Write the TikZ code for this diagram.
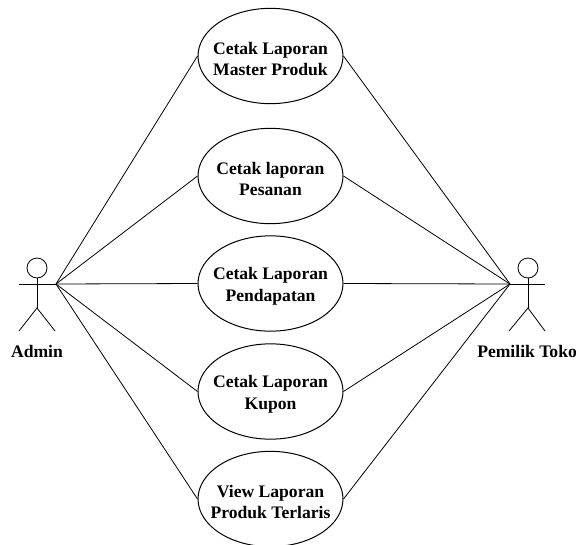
\documentclass[tikz,border=0pt]{standalone}
\usepackage{fontspec}
\setmainfont{Liberation Serif}
\usetikzlibrary{shapes.geometric}
\newcommand{\tstrut}{\rule{0pt}{13.5pt}}
\tikzset{
 uc/.style={draw,ellipse,minimum width=108.75pt,minimum height=71.5pt,inner xsep=-8pt,inner ysep=0pt,align=center,font=\fontsize{13.2}{16.2}\selectfont\bfseries,line width=0.75pt},
 lbl/.style={font=\fontsize{13.2}{15}\selectfont\bfseries,inner sep=0pt},
 ln/.style={line width=0.6pt},
 headc/.style={draw,circle,minimum size=15pt,inner sep=0pt,line width=0.6pt}
}
\begin{document}
\begin{tikzpicture}[x=0.75pt,y=-0.75pt]
\useasboundingbox (0,0) rectangle (576,544);
\clip (0,0) rectangle (576,544);
\node[uc] (a) at (270.5,56) {\tstrut Cetak Laporan\\Master Produk};
\node[uc] (b) at (270.5,176) {\tstrut Cetak laporan\\Pesanan};
\node[uc] (c) at (270.5,283.5) {\tstrut Cetak Laporan\\Pendapatan};
\node[uc] (d) at (270.5,391.5) {\tstrut Cetak Laporan\\Kupon};
\node[uc] (e) at (270.5,499) {\tstrut View Laporan\\Produk Terlaris};
\coordinate (ah) at (56,284);
\coordinate (ph) at (510,284);
\node[headc] (h1) at (37,268) {};
\coordinate (al) at (19,284);
\coordinate (b1) at (37,308);
\draw[ln] (h1) -- (b1);
\draw[ln] (al) -- (ah);
\coordinate (l1) at (19,331);\coordinate (r1) at (55,331);
\draw[ln] (l1) -- (b1) -- (r1);
\node[headc] (h2) at (528,268) {};
\coordinate (b2) at (528,308);
\coordinate (ar) at (545,284);
\draw[ln] (h2) -- (b2);
\draw[ln] (ph) -- (ar);
\coordinate (l2) at (509,331);\coordinate (r2) at (545,331);
\draw[ln] (l2) -- (b2) -- (r2);
\node[lbl] (na) at (37,351) {Admin};
\node[lbl,anchor=west] (np) at (477,351) {Pemilik Toko};
\foreach \n in {a,b,c,d,e}{\draw[ln] (ah) -- (\n.west);}
\foreach \n in {a,b,c,d,e}{\draw[ln] (ph) -- (\n.east);}
\end{tikzpicture}
\end{document}
